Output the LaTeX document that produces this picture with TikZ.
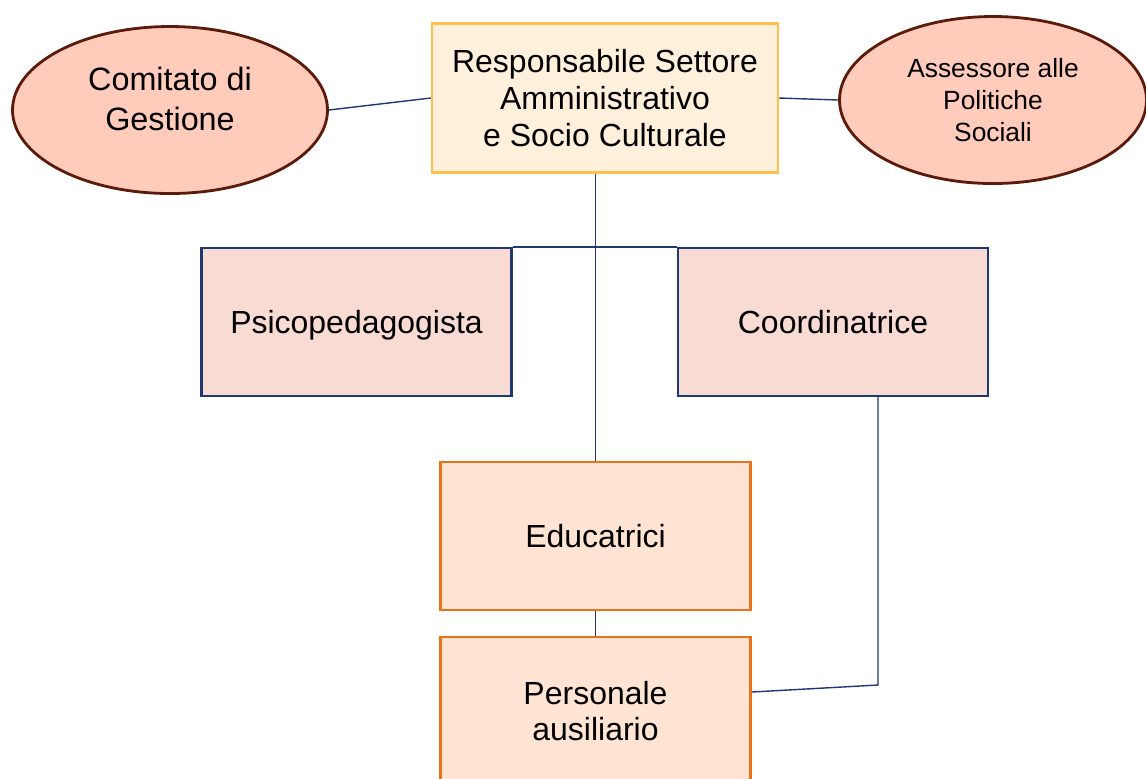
\documentclass[tikz,border=0pt]{standalone}
\usepackage{fontspec}
\setmainfont{Liberation Sans}
\usepackage{tikz}
\usetikzlibrary{shapes.geometric}

\definecolor{salmone}{HTML}{FFCBBB}
\definecolor{marrone}{HTML}{5C1A0A}
\definecolor{crema}{HTML}{FFF0DB}
\definecolor{oro}{HTML}{FFC04D}
\definecolor{rosa}{HTML}{F8DBD3}
\definecolor{navy}{HTML}{1F3870}
\definecolor{pesca}{HTML}{FFE4D4}
\definecolor{arancio}{HTML}{E8731A}

\begin{document}
\begin{tikzpicture}
\tikzstyle{organo} = [ellipse, draw=marrone, fill=salmone, line width=0.8pt, inner sep=0pt, align=center, font=\fontsize{9.2}{11.3}\selectfont]
\tikzstyle{capo} = [rectangle, draw=oro, fill=crema, line width=0.7pt, minimum width=3.46cm, minimum height=1.49cm, align=center, font=\fontsize{9.1}{10.5}\selectfont]
\tikzstyle{staff} = [rectangle, draw=navy, fill=rosa, line width=0.6pt, minimum width=3.1cm, minimum height=1.48cm, text depth=0pt, align=center, font=\fontsize{9.1}{10.5}\selectfont]
\tikzstyle{servizio} = [rectangle, draw=arancio, fill=pesca, line width=0.7pt, minimum width=3.1cm, minimum height=1.48cm, align=center, font=\fontsize{9.1}{10.3}\selectfont]
\tikzstyle{edge} = [draw=navy, line width=0.4pt]

\useasboundingbox (0,0) rectangle (11.46,-7.78);
\clip (0,0) rectangle (11.46,-7.78);

\node[organo, minimum width=3.15cm, minimum height=1.67cm, text depth=0.22cm] (C) at (1.70,-1.10) {Comitato di\\Gestione};
\node[capo] (R) at (6.05,-0.98) {Responsabile Settore\\Amministrativo\\e Socio Culturale};
\node[organo, minimum width=3.07cm, minimum height=1.67cm, font=\fontsize{7.5}{9.1}\selectfont] (A) at (9.93,-1.00) {Assessore alle\\Politiche\\Sociali};
\node[staff] (P) at (3.565,-3.22) {Psicopedagogista};
\node[staff] (K) at (8.33,-3.22) {Coordinatrice};
\node[servizio] (E) at (5.955,-5.36) {Educatrici};
\node[servizio] (S) at (5.955,-7.11) {Personale\\ausiliario};
\coordinate (G) at (8.78,-6.85);

\draw[edge] (C.east) -- (R.west);
\draw[edge] (R.east) -- (A.west);
\draw[edge] (E.north |- R.south) -- (E.north);
\draw[edge] (P.north east) -- (K.north west);
\draw[edge] (E.south) -- (S.north);
\draw[edge] (K.south -| G) -- (G) -- ([yshift=1.9mm]S.east);
\end{tikzpicture}
\end{document}
